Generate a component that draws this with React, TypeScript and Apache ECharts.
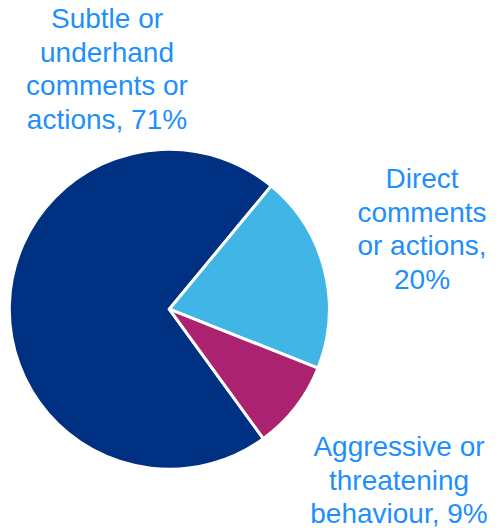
import React, { useEffect, useRef } from "react";
import * as echarts from "echarts";

const categories = [
  "Subtle or underhand comments or actions",
  "Direct comments or actions",
  "Aggressive or threatening behaviour",
];
const labelTexts = [
  "Subtle or\nunderhand\ncomments or\nactions, 71%",
  "Direct\ncomments\nor actions,\n20%",
  "Aggressive or\nthreatening\nbehaviour, 9%",
];
const values = [71, 20, 9];
const colors = ["#003082", "#41b6e6", "#ab2370"];
const labelPos = [
  [107, 69],
  [422, 229],
  [399, 480],
];

export default function App() {
  const ref = useRef<HTMLDivElement>(null);
  useEffect(() => {
    if (!ref.current) return;
    const chart = echarts.init(ref.current, undefined, { renderer: "svg" });
    chart.setOption({
      animation: false,
      backgroundColor: "#ffffff",
      series: [
        {
          type: "pie",
          center: [169.3, 309.2],
          radius: [0, 160],
          startAngle: 306,
          clockwise: true,
          silent: true,
          itemStyle: { borderColor: "#ffffff", borderWidth: 3 },
          label: { show: false },
          labelLine: { show: false },
          data: values.map((v, i) => ({
            name: categories[i],
            value: v,
            itemStyle: { color: colors[i] },
          })),
        },
      ],
      graphic: labelTexts.map((t, i) => ({
        type: "text",
        x: labelPos[i][0],
        y: labelPos[i][1],
        silent: true,
        style: {
          text: t,
          fill: "#1e8ffc",
          fontFamily: "Liberation Sans, Arial, sans-serif",
          fontSize: 28,
          lineHeight: 33.7,
          align: "center",
          verticalAlign: "middle",
        },
      })),
    });
    return () => chart.dispose();
  }, []);
  return (
    <div
      ref={ref}
      style={{ position: "fixed", left: 0, top: 0, width: 502, height: 528 }}
    />
  );
}
